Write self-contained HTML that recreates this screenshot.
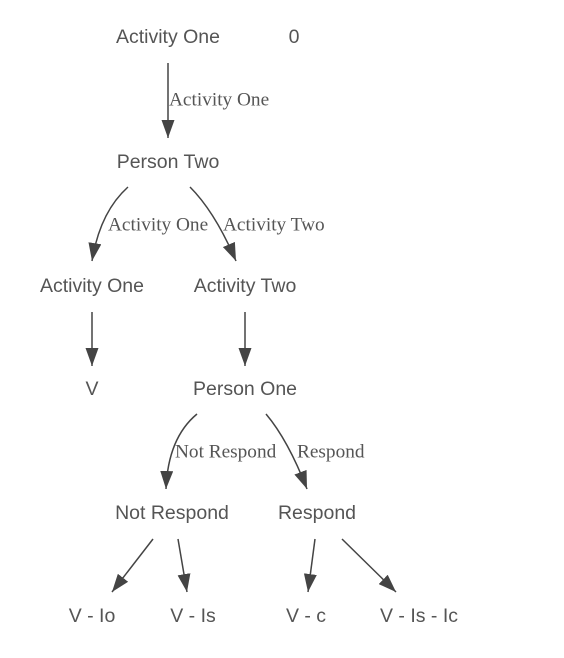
<!DOCTYPE html>
<html><head><meta charset="utf-8"><style>
html,body{margin:0;padding:0;background:#fff;}
svg{display:block;}
.n{font-family:"Liberation Sans",Arial,sans-serif;font-size:19.5px;fill:#555;text-anchor:middle;dominant-baseline:central;}
.e{font-family:"Liberation Serif",serif;font-size:19.3px;fill:#555;dominant-baseline:central;}
.l{stroke:#444;stroke-width:1.5;fill:none;}
</style></head><body>
<svg width="564" height="658" viewBox="0 0 564 658" xmlns="http://www.w3.org/2000/svg">
<defs>
<marker id="b" viewBox="0 0 18 13" refX="18" refY="6.5" markerWidth="18" markerHeight="13" markerUnits="userSpaceOnUse" orient="auto">
<path d="M0,0 L18,6.5 L0,13 z" fill="#444"/></marker></defs>
<g transform="translate(0,1)">
<text class="n" x="168" y="36">Activity One</text>
<text class="n" x="294" y="36">0</text>
<text class="n" x="168" y="161">Person Two</text>
<text class="n" x="92" y="285">Activity One</text>
<text class="n" x="245" y="285">Activity Two</text>
<text class="n" x="92" y="388">V</text>
<text class="n" x="245" y="388">Person One</text>
<text class="n" x="172" y="512">Not Respond</text>
<text class="n" x="317" y="512">Respond</text>
<text class="n" x="92" y="615">V - Io</text>
<text class="n" x="193" y="615">V - Is</text>
<text class="n" x="306" y="615">V - c</text>
<text class="n" x="419" y="615">V - Is - Ic</text>
<text class="e" x="169" y="99">Activity One</text>
<text class="e" x="108" y="224">Activity One</text>
<text class="e" x="223" y="224">Activity Two</text>
<text class="e" x="175" y="451">Not Respond</text>
<text class="e" x="297" y="451">Respond</text>
</g>
<path class="l" d="M168,63 L168,138" marker-end="url(#b)"/>
<path class="l" d="M128,187 Q100,212 92,261" marker-end="url(#b)"/>
<path class="l" d="M190,187 Q215,212 236,261" marker-end="url(#b)"/>
<path class="l" d="M92,312 L92,366" marker-end="url(#b)"/>
<path class="l" d="M245,312 L245,366" marker-end="url(#b)"/>
<path class="l" d="M197,414 Q168,438 166,489" marker-end="url(#b)"/>
<path class="l" d="M266,414 Q288,440 307,489" marker-end="url(#b)"/>
<path class="l" d="M153,539 L112,592" marker-end="url(#b)"/>
<path class="l" d="M178,539 L187,592" marker-end="url(#b)"/>
<path class="l" d="M315,539 L308,592" marker-end="url(#b)"/>
<path class="l" d="M342,539 L396,592" marker-end="url(#b)"/>
</svg>
</body></html>
